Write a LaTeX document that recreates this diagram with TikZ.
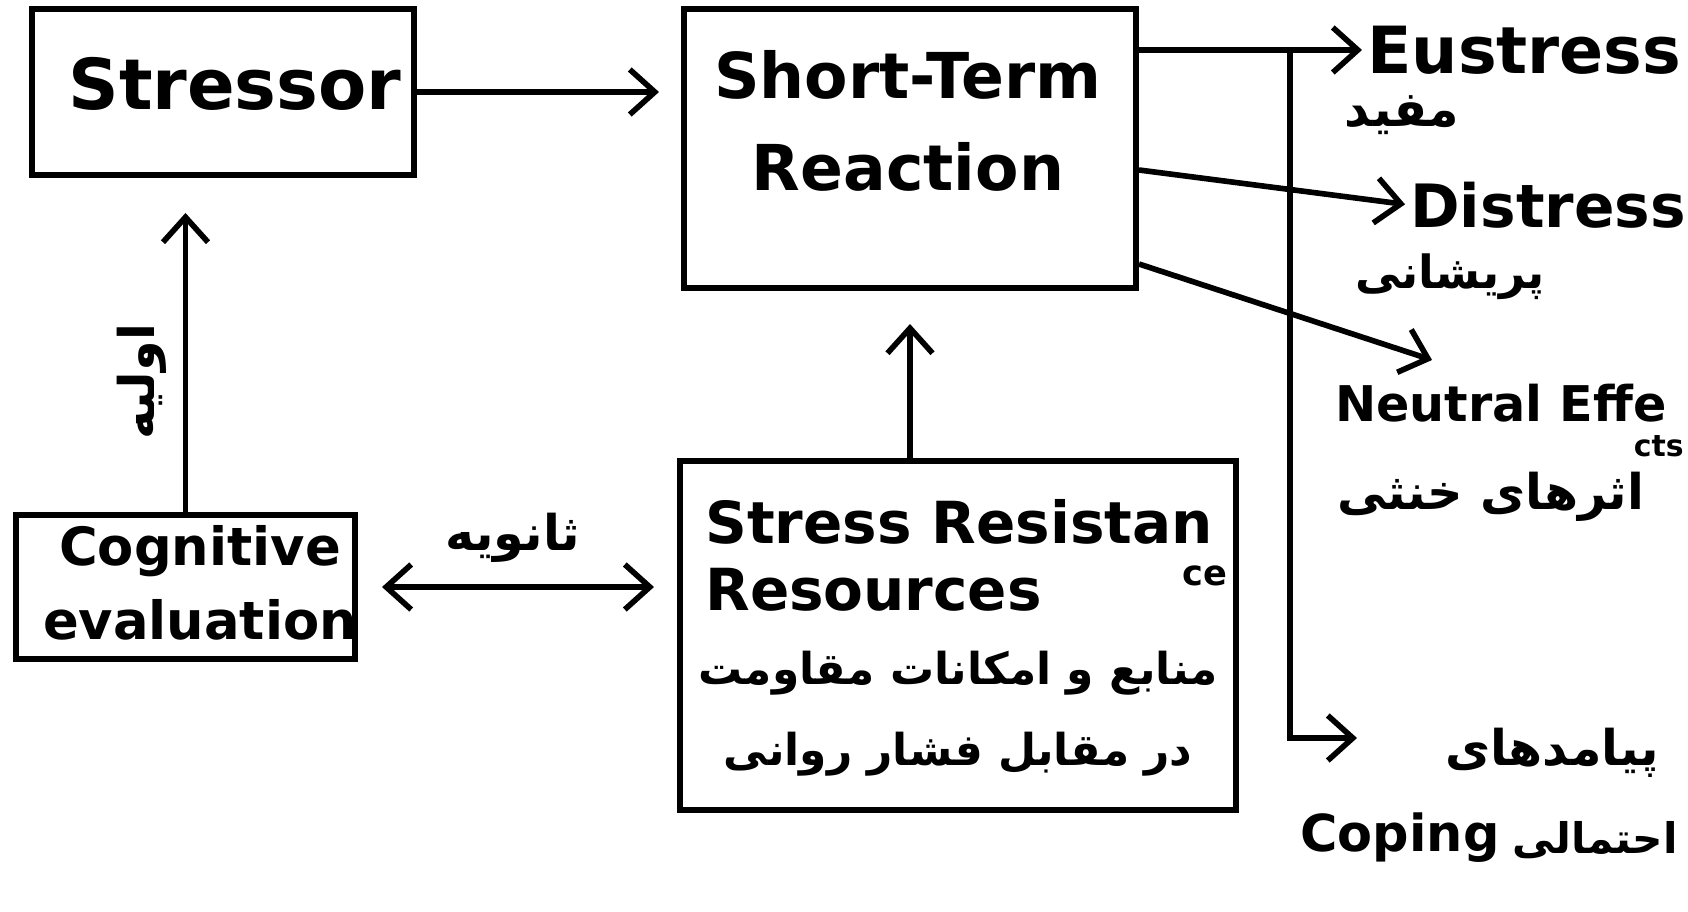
\documentclass[tikz,border=0pt]{standalone}
\usepackage{fontspec}
\setmainfont{DejaVu Sans}
\newfontfamily\fa[Script=Arabic]{DejaVu Sans}
\TeXXeTstate=1
\usetikzlibrary{arrows.meta}
\newcommand\fsz[2]{\fontsize{#1}{#2}\selectfont\bfseries}
\tikzset{chev/.tip={Straight Barb[length=5mm,width=9mm]}}

\begin{document}
\begin{tikzpicture}[x=0.2mm, y=-0.2mm,
        box/.style={draw, line width=3.4pt, inner sep=0pt},
        arr/.style={line width=3.2pt, -chev},
        darr/.style={line width=3.2pt, chev-chev},
        txt/.style={inner sep=0pt}]
            \useasboundingbox (0,0) rectangle (1688,912);
            \node [box, minimum width=7.64cm, minimum height=3.32cm] (stressor) at (223,92) {};
            \node [box, minimum width=9.04cm, minimum height=5.58cm] (str) at (910,148.5) {};
            \node [box, minimum width=6.78cm, minimum height=2.88cm] (cog) at (185.5,587) {};
            \node [box, minimum width=11.12cm, minimum height=6.98cm] (srr) at (958,635.5) {};
            \node [txt, font=\fsz{40}{48}] (stressorlbl) at (235,84) {Stressor};
            \node [txt, align=center, font=\fsz{36}{52}] (strlbl) at (908,121) {Short-Term\\Reaction};
            \node [txt, align=center, font=\fsz{30}{42}] (coglbl) at (200,583) {Cognitive\\evaluation};
            \node [txt, anchor=west, font=\fsz{33}{40}] (srrone) at (705,522) {Stress Resistan};
            \node [txt, font=\fsz{20}{24}] (srrce) at (1205,576) {ce};
            \node [txt, anchor=west, font=\fsz{33}{40}] (srrtwo) at (705,590) {Resources};
            \node [txt, font=\fa\fsz{25}{30}] (srrthree) at (958,673) {\beginR منابع و امکانات مقاومت\endR};
            \node [txt, font=\fa\fsz{25}{30}] (srrfour) at (958,754) {\beginR در مقابل فشار روانی\endR};
            \node [txt, anchor=west, font=\fsz{37}{44}] (eu) at (1367,50) {Eustress};
            \node [txt, font=\fa\fsz{28}{34}] (mofid) at (1402,115) {\beginR مفید\endR};
            \node [txt, anchor=west, font=\fsz{34}{40}] (dis) at (1410,205) {Distress};
            \node [txt, font=\fa\fsz{26}{32}] (parish) at (1450,277) {\beginR پریشانی\endR};
            \node [txt, anchor=west, font=\fsz{28}{34}] (neu) at (1335,403) {Neutral Effe};
            \node [txt, anchor=east, font=\fsz{17}{20}] (neucts) at (1684,446) {cts};
            \node [txt, font=\fa\fsz{28}{34}] (athar) at (1491,497) {\beginR اثرهای خنثی\endR};
            \node [txt, font=\fa\fsz{28}{34}] (payam) at (1552,753) {\beginR پیامدهای\endR};
            \node [txt, anchor=west, font=\fsz{29}{34}] (coping) at (1300,838) {Coping};
            \node [txt, anchor=east, font=\fa\fsz{24}{30}] (ehtemali) at (1678,840) {\beginR احتمالی\endR};
            \node [txt, rotate=90, font=\fa\fsz{28}{34}] (avalie) at (142,382) {\beginR اولیه\endR};
            \node [txt, font=\fa\fsz{28}{34}] (sanavie) at (513,538) {\beginR ثانویه\endR};
            \coordinate (split) at (1290,50);
            \coordinate (ntip) at (1432,360);
            \coordinate (coptip) at (1357,738);
            \draw [arr, shorten >=0.44cm] (stressor.east) -- (str.west |- stressor.east);
            \draw [arr, shorten >=0.7cm] (cog.north) -- (cog.north |- stressor.south);
            \draw [arr, shorten >=0.66cm] (srr.north -| str.south) -- (str.south);
            \draw [darr, shorten <=0.48cm, shorten >=0.46cm] (cog.east) -- (srr.west |- cog.east);
            \draw [arr, shorten >=0.1cm] (str.east |- eu.west) -- (eu.west);
            \draw [arr, shorten >=0.1cm] ([yshift=-0.43cm]str.east) -- (dis.west);
            \draw [arr] ([yshift=-2.31cm]str.east) -- (ntip);
            \draw [arr] (split) |- (coptip);
        \end{tikzpicture}
\end{document}
